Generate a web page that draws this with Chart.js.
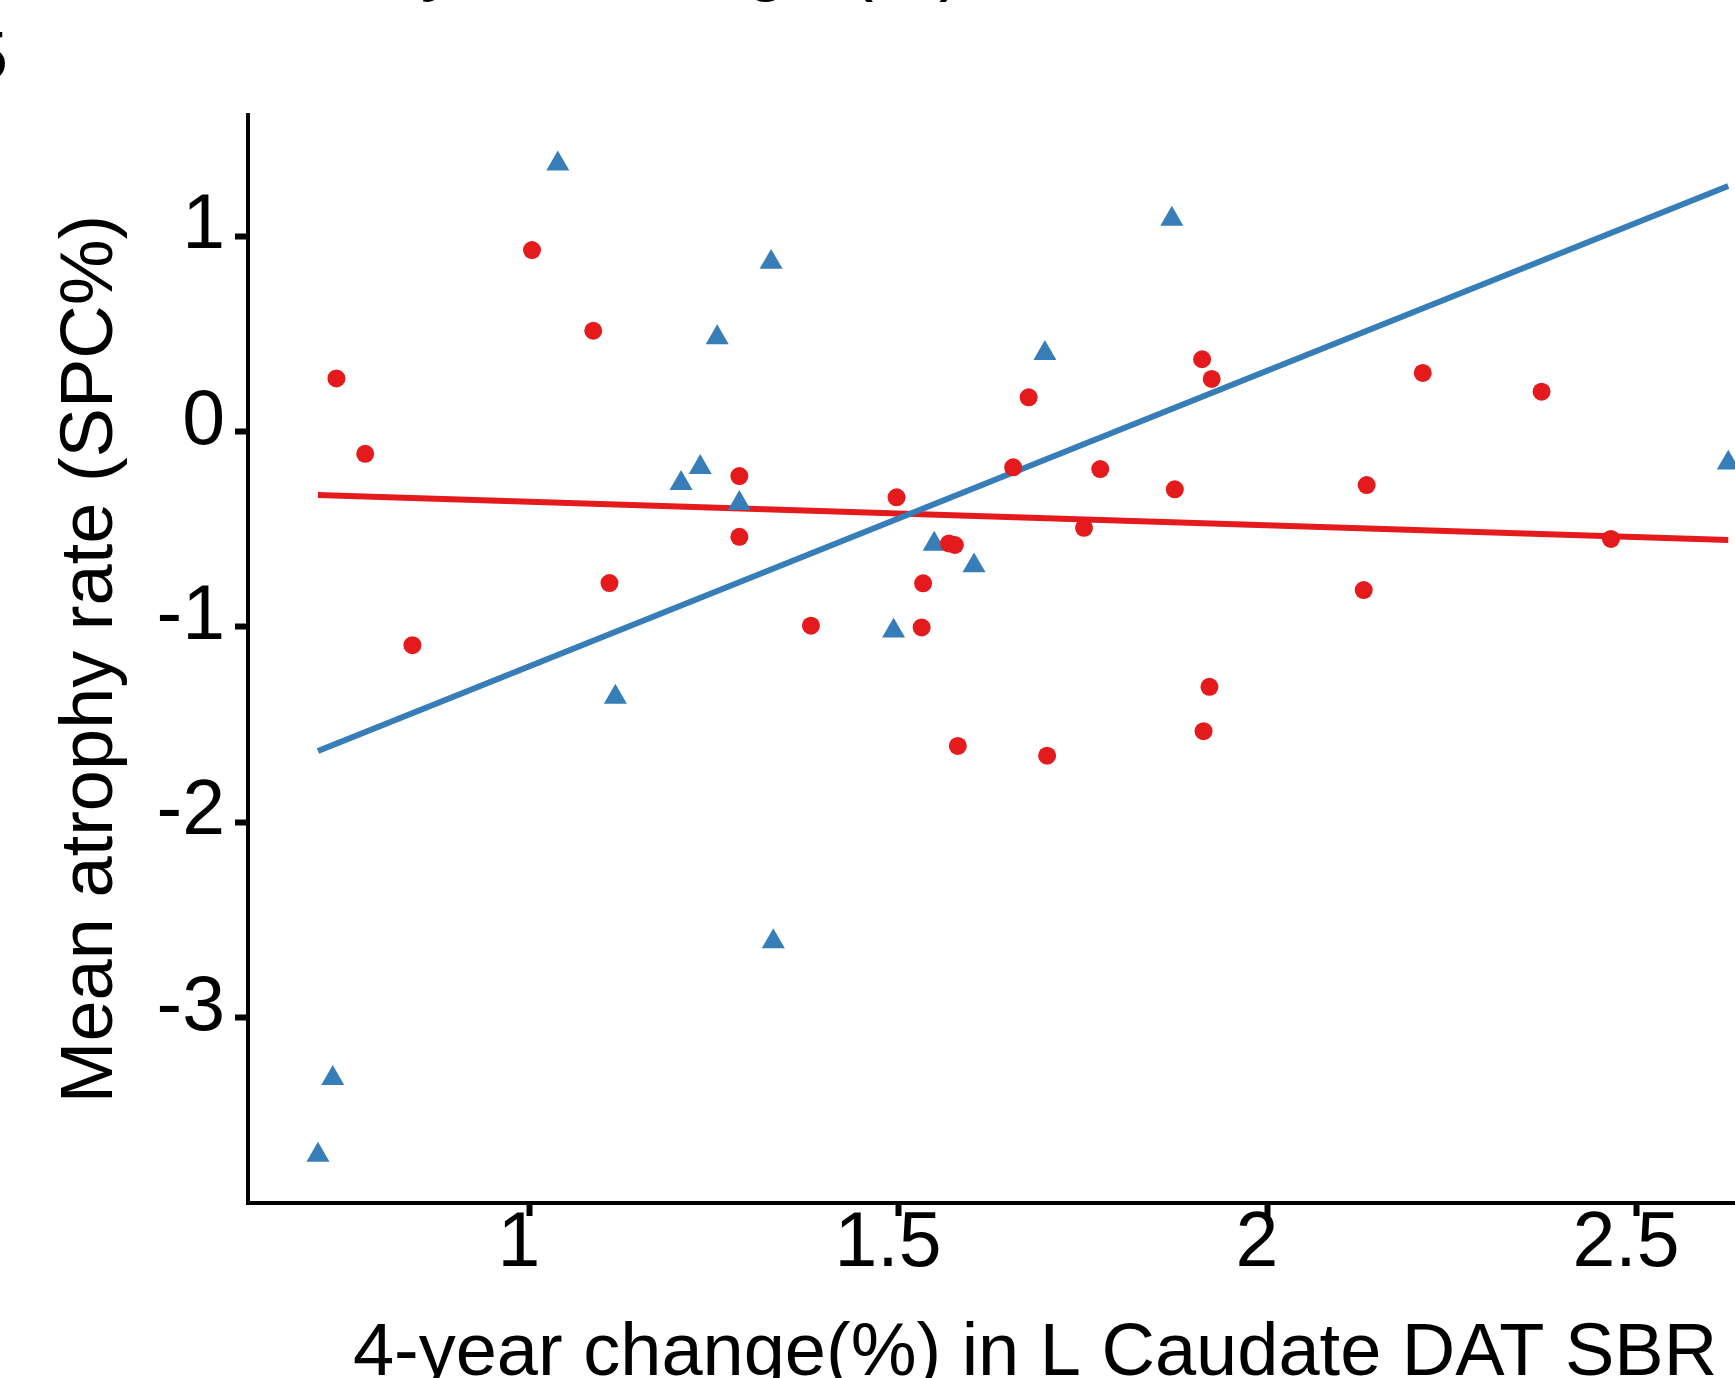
<!DOCTYPE html>
<html>
<head>
<meta charset="utf-8">
<title>Mean atrophy rate vs L Caudate DAT SBR change</title>
<style>
    html, body { margin: 0; padding: 0; background: #fff; overflow: hidden; }
    #frame { position: relative; width: 1735px; height: 1378px; overflow: hidden; background: #fff; }
    #chart { position: absolute; left: 0; top: 0; }
    .cut { position: absolute; font-family: "Liberation Sans", Arial, sans-serif; color: #000; white-space: nowrap; }
    #panelTitle { font-size: 74px; line-height: 74px; left: 355px; top: -75px; }
    #panelLetter { font-size: 68px; line-height: 68px; left: -30px; top: 21px; }
</style>
<script src="https://cdn.jsdelivr.net/npm/chart.js@4/dist/chart.umd.min.js"></script>
</head>
<body>
<div id="frame">
    <div class="cut" id="panelTitle">4-year change (%)</div>
    <div class="cut" id="panelLetter">5</div>
    <canvas id="chart" width="1822" height="1420"></canvas>
</div>
<script>
"use strict";

// axis ranges and ticks (the picture is cropped on the right, the axis runs on past it)
const xRange = [0.6192, 2.752];
const yRange = [-3.95, 1.6206];
const xTickValues = [1, 1.5, 2, 2.5];
const xTickLabels = ["1", "1.5", "2", "2.5"];
const yTickValues = [-3, -2, -1, 0, 1];
const yTickLabels = ["-3", "-2", "-1", "0", "1"];
const xTitle = "4-year change(%) in L Caudate DAT SBR";
const yTitle = "Mean atrophy rate (SPC%)";

// red group (circles)
const redX = [0.739, 0.778, 0.842, 1.004, 1.087, 1.109, 1.285, 1.285, 1.382, 1.498,
    1.534, 1.532, 1.569, 1.577, 1.581, 1.656, 1.677, 1.702, 1.752, 1.774,
    1.875, 1.912, 1.925, 1.922, 1.914, 2.135, 2.131, 2.211, 2.372, 2.466];
const redY = [0.272, -0.114, -1.094, 0.929, 0.516, -0.776, -0.228, -0.539, -0.994, -0.337,
    -0.777, -1.003, -0.573, -0.581, -1.610, -0.183, 0.175, -1.660, -0.493, -0.192,
    -0.296, 0.370, 0.269, -1.307, -1.534, -0.274, -0.812, 0.300, 0.204, -0.550];

// blue group (triangles)
const blueX = [1.039, 1.328, 1.255, 1.206, 1.232, 1.285, 1.117, 1.331, 0.734, 0.714,
    1.494, 1.549, 1.603, 1.699, 1.871, 2.625];
const blueY = [1.371, 0.867, 0.481, -0.265, -0.183, -0.368, -1.360, -2.612, -3.312, -3.705,
    -1.021, -0.576, -0.687, 0.400, 1.088, -0.161];

// fitted lines, end points
const fitX = [0.714, 2.625];
const redFitY = [-0.325, -0.556];
const blueFitY = [-1.636, 1.257];

const FONT = '"Liberation Sans", Arial, sans-serif';
const RED = "#E41A1C";
const BLUE = "#377EB8";

function toPoints(xs, ys) {
    return xs.map((x, i) => ({ x: x, y: ys[i] }));
}

function axisStyle() {
    return {
        grid: { display: true, drawOnChartArea: false, drawTicks: true, tickLength: 13, tickWidth: 6, tickColor: "#000" },
        border: { display: true, color: "#000", width: 4 },
    };
}

new Chart(document.getElementById("chart").getContext("2d"), {
    type: "scatter",
    data: {
        datasets: [
            {
                data: toPoints(redX, redY),
                pointStyle: "circle",
                pointRadius: 9,
                pointBorderWidth: 0,
                backgroundColor: RED,
                borderColor: RED,
            },
            {
                data: toPoints(blueX, blueY),
                pointStyle: "triangle",
                pointRadius: 13.3,
                pointBorderWidth: 0,
                backgroundColor: BLUE,
                borderColor: BLUE,
            },
            {
                data: toPoints(fitX, blueFitY),
                showLine: true,
                pointRadius: 0,
                borderColor: BLUE,
                borderWidth: 6,
            },
            {
                data: toPoints(fitX, redFitY),
                showLine: true,
                pointRadius: 0,
                borderColor: RED,
                borderWidth: 6,
            },
        ],
    },
    options: {
        responsive: false,
        devicePixelRatio: 1,
        animation: false,
        events: [],
        layout: { autoPadding: false, padding: { top: 115, left: 0, right: 0, bottom: 0 } },
        plugins: { legend: { display: false }, tooltip: { enabled: false } },
        scales: {
            x: {
                type: "linear",
                min: xRange[0],
                max: xRange[1],
                ...axisStyle(),
                afterBuildTicks: (scale) => { scale.ticks = xTickValues.map((v) => ({ value: v })); },
                afterFit: (scale) => { scale.height = 217; },
                ticks: {
                    autoSkip: false, maxRotation: 0, minRotation: 0,
                    padding: -17, labelOffset: -10, color: "#000",
                    font: { family: FONT, size: 77 },
                    callback: (v, i) => xTickLabels[i],
                },
                title: {
                    display: true, text: xTitle, color: "#000",
                    font: { family: FONT, size: 74 },
                    padding: { top: 0, bottom: 21 },
                },
            },
            y: {
                type: "linear",
                min: yRange[0],
                max: yRange[1],
                ...axisStyle(),
                afterBuildTicks: (scale) => { scale.ticks = yTickValues.map((v) => ({ value: v })); },
                afterFit: (scale) => { scale.width = 248; },
                ticks: {
                    autoSkip: false, padding: 10, labelOffset: -9, color: "#000",
                    font: { family: FONT, size: 77 },
                    callback: (v, i) => yTickLabels[i],
                },
                title: {
                    display: true, text: yTitle, color: "#000",
                    font: { family: FONT, size: 74 },
                    padding: { top: 47, bottom: 0 },
                },
            },
        },
    },
});
</script>
</body>
</html>
